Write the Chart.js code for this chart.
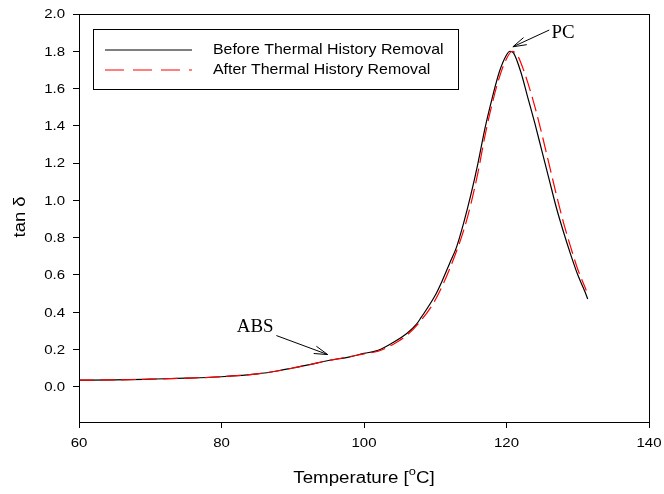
<!DOCTYPE html>
<html>
<head>
<meta charset="utf-8">
<script src="https://cdn.jsdelivr.net/npm/chart.js@4.4.1/dist/chart.umd.min.js"></script>
<style>
  html, body { margin: 0; padding: 0; background: #fff; }
  #wrap { width: 664px; height: 494px; }
</style>
</head>
<body>
<div id="wrap"><canvas id="chart" width="664" height="494"></canvas></div>
<script>
// temperature (°C) and tan delta
const beforeTemp = [60, 65, 70, 75, 80, 85, 88, 90, 92, 95, 98, 100, 102, 104, 106, 107.4, 108, 110, 111, 112, 113, 114, 115, 116, 117, 118, 119, 120, 120.5, 121, 122, 123, 124, 125, 126, 127, 128, 129, 130, 131, 131.4];
const beforeTan = [0.035, 0.036, 0.04, 0.045, 0.053, 0.068, 0.085, 0.1, 0.115, 0.14, 0.16, 0.178, 0.195, 0.235, 0.285, 0.337, 0.37, 0.49, 0.57, 0.66, 0.75, 0.88, 1.03, 1.2, 1.39, 1.55, 1.69, 1.78, 1.8, 1.79, 1.69, 1.55, 1.41, 1.26, 1.11, 0.96, 0.83, 0.71, 0.6, 0.51, 0.47];

const afterTemp = [60, 65, 70, 75, 80, 85, 88, 90, 92, 95, 98, 100, 102, 104, 106, 108, 110, 112, 114, 115, 116, 117, 118, 119, 120, 120.8, 121.5, 122, 123, 124, 125, 126, 127, 128, 129, 130, 131.2];
const afterTan = [0.035, 0.036, 0.04, 0.045, 0.053, 0.068, 0.085, 0.1, 0.115, 0.14, 0.16, 0.176, 0.19, 0.225, 0.275, 0.355, 0.465, 0.63, 0.84, 0.98, 1.15, 1.35, 1.52, 1.66, 1.76, 1.8, 1.78, 1.74, 1.63, 1.5, 1.35, 1.19, 1.03, 0.88, 0.75, 0.63, 0.516];

const xTicks = [60, 80, 100, 120, 140];
const yTicks = [0, 0.2, 0.4, 0.6, 0.8, 1.0, 1.2, 1.4, 1.6, 1.8, 2.0];
const seriesNames = ['Before Thermal History Removal', 'After Thermal History Removal'];

// annotations: [label, text x, text y, arrow tail x, tail y, tip x, tip y] in data units
const notes = [
    ['PC', 126.3, 1.895, 126.0, 1.914, 120.9, 1.824],
    ['ABS', 87.3, 0.32, 87.7, 0.274, 94.9, 0.172]
];

const SANS = '"Liberation Sans", Arial, sans-serif';

function toPoints(xs, ys) {
    return xs.map((x, i) => ({ x: x, y: ys[i] }));
}

// text a bit wider than tall, like the original export
function stretchedText(ctx, text, x, y, sx, align) {
    ctx.save();
    ctx.translate(x, y);
    ctx.scale(sx, 1);
    ctx.textAlign = align;
    ctx.fillText(text, 0, 0);
    ctx.restore();
}

const framePlugin = {
    id: 'frame',
    afterDraw(chart) {
        const ctx = chart.ctx;
        const a = chart.chartArea;
        const xs = chart.scales.x, ys = chart.scales.y;
        ctx.save();
        ctx.strokeStyle = '#000';
        ctx.lineWidth = 1;
        ctx.strokeRect(Math.round(a.left) + 0.5, Math.round(a.top) + 0.5,
            Math.round(a.right - a.left), Math.round(a.bottom - a.top));

        // tick labels
        ctx.fillStyle = '#000';
        ctx.textBaseline = 'middle';
        ctx.font = '12.5px ' + SANS;
        yTicks.forEach(v => {
            stretchedText(ctx, v.toFixed(1), 65, ys.getPixelForValue(v) + 1, 1.2, 'right');
        });
        xTicks.forEach(v => {
            stretchedText(ctx, String(v), xs.getPixelForValue(v), 444, 1.2, 'center');
        });

        // legend box
        ctx.strokeRect(93.5, 29.5, 365, 60);
        ctx.lineWidth = 1.2;
        ctx.beginPath();
        ctx.moveTo(105, 50); ctx.lineTo(192, 50);
        ctx.stroke();
        ctx.strokeStyle = '#ff0000';
        ctx.setLineDash([19, 9]);
        ctx.beginPath();
        ctx.moveTo(105, 70); ctx.lineTo(192, 70);
        ctx.stroke();
        ctx.setLineDash([]);
        ctx.font = '15px ' + SANS;
        stretchedText(ctx, seriesNames[0], 213, 50, 1.06, 'left');
        stretchedText(ctx, seriesNames[1], 213, 70, 1.06, 'left');

        // annotations with arrows
        ctx.font = '18px "Liberation Serif", "Times New Roman", serif';
        ctx.strokeStyle = '#000';
        ctx.lineWidth = 1;
        notes.forEach(n => {
            const tx = xs.getPixelForValue(n[1]), ty = ys.getPixelForValue(n[2]);
            stretchedText(ctx, n[0], tx, ty, 1.05, n[0] === 'PC' ? 'left' : 'right');
            const x0 = xs.getPixelForValue(n[3]), y0 = ys.getPixelForValue(n[4]);
            const x1 = xs.getPixelForValue(n[5]), y1 = ys.getPixelForValue(n[6]);
            ctx.beginPath();
            ctx.moveTo(x0, y0); ctx.lineTo(x1, y1);
            const ang = Math.atan2(y1 - y0, x1 - x0);
            const len = 14, spread = 0.28;
            ctx.moveTo(x1 - len * Math.cos(ang - spread), y1 - len * Math.sin(ang - spread));
            ctx.lineTo(x1, y1);
            ctx.lineTo(x1 - len * Math.cos(ang + spread), y1 - len * Math.sin(ang + spread));
            ctx.stroke();
        });

        // axis titles
        ctx.font = '16px ' + SANS;
        ctx.save();
        ctx.translate(21, 217);
        ctx.rotate(-Math.PI / 2);
        stretchedText(ctx, 'tan δ', 0, 0, 1.15, 'center');
        ctx.restore();

        const sx = 1.17;
        const p1 = 'Temperature [', sup = 'o', p2 = 'C]';
        const w1 = ctx.measureText(p1).width * sx;
        const w2 = ctx.measureText(p2).width * sx;
        ctx.font = '11px ' + SANS;
        const ws = ctx.measureText(sup).width * sx;
        let x = 364 - (w1 + ws + w2) / 2;
        const y = 479;
        ctx.font = '16px ' + SANS;
        stretchedText(ctx, p1, x, y, sx, 'left');
        x += w1;
        ctx.font = '11px ' + SANS;
        stretchedText(ctx, sup, x, y - 7, sx, 'left');
        x += ws;
        ctx.font = '16px ' + SANS;
        stretchedText(ctx, p2, x, y, sx, 'left');
        ctx.restore();
    }
};

const ctx = document.getElementById('chart').getContext('2d');
new Chart(ctx, {
    type: 'line',
    data: {
        datasets: [{
            label: seriesNames[0],
            data: toPoints(beforeTemp, beforeTan),
            borderColor: '#000000',
            borderWidth: 1.2,
            pointRadius: 0,
            cubicInterpolationMode: 'monotone',
            fill: false,
            order: 1
        }, {
            label: seriesNames[1],
            data: toPoints(afterTemp, afterTan),
            borderColor: '#ff0000',
            borderWidth: 1.2,
            borderDash: [15, 6],
            pointRadius: 0,
            cubicInterpolationMode: 'monotone',
            fill: false,
            order: 0
        }]
    },
    options: {
        responsive: false,
        animation: false,
        layout: { padding: { top: 14, right: 15, left: 0, bottom: 0 } },
        plugins: {
            legend: { display: false },
            tooltip: { enabled: false }
        },
        scales: {
            x: {
                type: 'linear',
                min: 60,
                max: 140,
                afterFit(scale) { scale.height = 72; },
                afterBuildTicks(scale) { scale.ticks = xTicks.map(v => ({ value: v })); },
                grid: { drawOnChartArea: false, drawTicks: true, tickLength: 6, color: '#000' },
                border: { display: true, color: '#000' },
                ticks: { display: false }
            },
            y: {
                type: 'linear',
                min: -0.19,
                max: 2.0,
                afterFit(scale) { scale.width = 79; },
                afterBuildTicks(scale) { scale.ticks = yTicks.map(v => ({ value: v })); },
                grid: { drawOnChartArea: false, drawTicks: true, tickLength: 6, color: '#000' },
                border: { display: true, color: '#000' },
                ticks: { display: false }
            }
        }
    },
    plugins: [framePlugin]
});
</script>
</body>
</html>
